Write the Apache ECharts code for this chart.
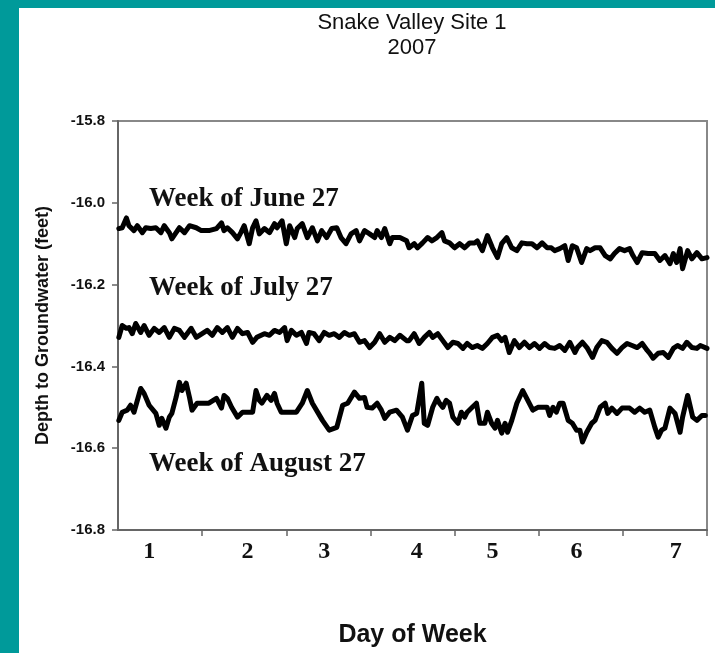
<!DOCTYPE html>
<html>
<head>
<meta charset="utf-8">
<script src="https://cdn.jsdelivr.net/npm/echarts@6/dist/echarts.min.js"></script>
<style>
  html, body { margin: 0; padding: 0; width: 715px; height: 653px; background: #009a9a; overflow: hidden; }
  #panel { position: absolute; left: 19px; top: 8px; right: 0; bottom: 0; background: #fff; }
  #chart { position: absolute; left: 0; top: 0; width: 715px; height: 653px; }
</style>
</head>
<body>
<div id="panel"></div>
<div id="chart"></div>
<script>
// day of week labels and where they sit on the 0..7 axis
var dayLabels = ['1', '2', '3', '4', '5', '6', '7'];
var dayLabelAt = [0.37, 1.54, 2.45, 3.55, 4.45, 5.45, 6.63];
var dayTicks = [1, 2, 3, 4, 5, 6, 7];

var seriesNames = ['Week of June 27', 'Week of July 27', 'Week of August 27'];

// [day, depth in feet]
var june27 = [
  [0.01,-16.063],[0.05,-16.061],[0.10,-16.037],[0.13,-16.056],[0.19,-16.068],[0.23,-16.056],[0.29,-16.073],[0.33,-16.061],
  [0.39,-16.063],[0.45,-16.061],[0.51,-16.073],[0.55,-16.056],[0.61,-16.073],[0.64,-16.088],[0.69,-16.073],[0.73,-16.061],
  [0.79,-16.073],[0.85,-16.056],[0.93,-16.061],[0.99,-16.068],[1.08,-16.068],[1.17,-16.063],[1.23,-16.049],[1.26,-16.068],
  [1.30,-16.061],[1.36,-16.073],[1.42,-16.088],[1.46,-16.073],[1.50,-16.056],[1.56,-16.100],[1.60,-16.061],[1.64,-16.044],
  [1.68,-16.076],[1.74,-16.063],[1.80,-16.073],[1.86,-16.051],[1.89,-16.061],[1.95,-16.044],[2.00,-16.100],[2.04,-16.056],
  [2.10,-16.085],[2.13,-16.063],[2.19,-16.051],[2.25,-16.085],[2.31,-16.061],[2.37,-16.093],[2.42,-16.068],[2.48,-16.085],
  [2.54,-16.063],[2.60,-16.061],[2.65,-16.085],[2.71,-16.100],[2.77,-16.076],[2.83,-16.068],[2.87,-16.093],[2.93,-16.068],
  [2.99,-16.076],[3.05,-16.085],[3.08,-16.068],[3.13,-16.085],[3.17,-16.063],[3.23,-16.100],[3.26,-16.085],[3.35,-16.085],
  [3.43,-16.093],[3.46,-16.110],[3.52,-16.100],[3.56,-16.110],[3.62,-16.098],[3.68,-16.085],[3.73,-16.093],[3.79,-16.085],
  [3.85,-16.073],[3.88,-16.093],[3.94,-16.098],[4.00,-16.110],[4.06,-16.100],[4.12,-16.110],[4.18,-16.098],[4.24,-16.098],
  [4.27,-16.093],[4.33,-16.117],[4.39,-16.080],[4.45,-16.110],[4.51,-16.134],[4.56,-16.100],[4.62,-16.085],[4.68,-16.110],
  [4.74,-16.117],[4.80,-16.098],[4.86,-16.100],[4.92,-16.100],[4.98,-16.110],[5.04,-16.098],[5.10,-16.110],[5.15,-16.110],
  [5.19,-16.117],[5.25,-16.112],[5.31,-16.105],[5.35,-16.141],[5.40,-16.105],[5.45,-16.110],[5.51,-16.146],[5.57,-16.112],
  [5.61,-16.117],[5.67,-16.110],[5.73,-16.110],[5.79,-16.129],[5.85,-16.137],[5.90,-16.124],[5.96,-16.112],[6.02,-16.117],
  [6.08,-16.112],[6.12,-16.129],[6.17,-16.146],[6.23,-16.122],[6.30,-16.124],[6.38,-16.124],[6.44,-16.141],[6.50,-16.129],
  [6.56,-16.149],[6.60,-16.124],[6.64,-16.146],[6.68,-16.112],[6.71,-16.161],[6.77,-16.117],[6.82,-16.137],[6.88,-16.122],
  [6.94,-16.137],[7.00,-16.134]
];
var july27 = [
  [0.01,-16.329],[0.05,-16.300],[0.10,-16.307],[0.13,-16.305],[0.17,-16.320],[0.21,-16.295],[0.27,-16.317],[0.31,-16.300],
  [0.37,-16.324],[0.43,-16.307],[0.49,-16.317],[0.55,-16.305],[0.61,-16.329],[0.67,-16.307],[0.73,-16.312],[0.79,-16.329],
  [0.87,-16.307],[0.93,-16.329],[1.00,-16.320],[1.06,-16.312],[1.12,-16.324],[1.18,-16.305],[1.24,-16.317],[1.30,-16.305],
  [1.36,-16.329],[1.42,-16.307],[1.48,-16.320],[1.54,-16.317],[1.60,-16.341],[1.65,-16.329],[1.74,-16.320],[1.80,-16.324],
  [1.86,-16.312],[1.92,-16.317],[1.98,-16.305],[2.01,-16.337],[2.06,-16.312],[2.12,-16.324],[2.18,-16.317],[2.24,-16.344],
  [2.27,-16.317],[2.33,-16.320],[2.39,-16.337],[2.45,-16.317],[2.51,-16.324],[2.57,-16.320],[2.63,-16.329],[2.69,-16.317],
  [2.75,-16.324],[2.81,-16.320],[2.87,-16.341],[2.93,-16.337],[2.99,-16.354],[3.05,-16.341],[3.11,-16.320],[3.17,-16.341],
  [3.23,-16.329],[3.29,-16.337],[3.35,-16.324],[3.43,-16.337],[3.46,-16.337],[3.52,-16.320],[3.58,-16.344],[3.64,-16.329],
  [3.70,-16.317],[3.74,-16.329],[3.80,-16.320],[3.86,-16.337],[3.92,-16.354],[3.98,-16.341],[4.04,-16.344],[4.10,-16.356],
  [4.15,-16.344],[4.21,-16.354],[4.27,-16.349],[4.33,-16.356],[4.39,-16.344],[4.45,-16.329],[4.51,-16.324],[4.56,-16.337],
  [4.60,-16.329],[4.65,-16.366],[4.71,-16.337],[4.77,-16.354],[4.83,-16.341],[4.89,-16.354],[4.95,-16.344],[5.01,-16.356],
  [5.07,-16.344],[5.13,-16.354],[5.19,-16.356],[5.25,-16.349],[5.31,-16.361],[5.37,-16.341],[5.43,-16.366],[5.46,-16.354],
  [5.52,-16.341],[5.58,-16.356],[5.64,-16.378],[5.69,-16.354],[5.75,-16.337],[5.81,-16.341],[5.87,-16.356],[5.93,-16.368],
  [5.99,-16.354],[6.05,-16.344],[6.11,-16.349],[6.17,-16.354],[6.23,-16.344],[6.29,-16.361],[6.32,-16.368],[6.36,-16.380],
  [6.42,-16.368],[6.48,-16.366],[6.54,-16.378],[6.60,-16.356],[6.65,-16.349],[6.71,-16.356],[6.76,-16.341],[6.82,-16.354],
  [6.88,-16.356],[6.92,-16.349],[7.00,-16.356]
];
var aug27 = [
  [0.01,-16.532],[0.05,-16.512],[0.11,-16.507],[0.15,-16.495],[0.19,-16.512],[0.27,-16.454],[0.31,-16.466],[0.37,-16.495],
  [0.45,-16.515],[0.49,-16.544],[0.52,-16.527],[0.57,-16.551],[0.61,-16.524],[0.64,-16.515],[0.69,-16.476],[0.73,-16.439],
  [0.76,-16.459],[0.81,-16.441],[0.85,-16.476],[0.88,-16.507],[0.94,-16.490],[1.08,-16.490],[1.17,-16.478],[1.23,-16.502],
  [1.26,-16.471],[1.30,-16.478],[1.35,-16.500],[1.42,-16.524],[1.48,-16.512],[1.60,-16.512],[1.64,-16.459],[1.68,-16.483],
  [1.71,-16.490],[1.77,-16.471],[1.82,-16.483],[1.86,-16.466],[1.89,-16.490],[1.94,-16.512],[2.12,-16.512],[2.19,-16.490],
  [2.25,-16.459],[2.31,-16.490],[2.43,-16.532],[2.51,-16.556],[2.60,-16.549],[2.67,-16.495],[2.73,-16.490],[2.81,-16.463],
  [2.87,-16.478],[2.93,-16.476],[2.96,-16.500],[3.02,-16.502],[3.08,-16.490],[3.13,-16.507],[3.17,-16.527],[3.23,-16.512],
  [3.31,-16.507],[3.38,-16.524],[3.44,-16.556],[3.50,-16.520],[3.55,-16.515],[3.61,-16.441],[3.64,-16.539],[3.68,-16.544],
  [3.74,-16.500],[3.79,-16.478],[3.82,-16.490],[3.86,-16.500],[3.90,-16.483],[3.94,-16.490],[3.98,-16.524],[4.04,-16.539],
  [4.08,-16.512],[4.12,-16.524],[4.15,-16.512],[4.21,-16.500],[4.26,-16.490],[4.30,-16.539],[4.36,-16.539],[4.39,-16.512],
  [4.44,-16.539],[4.48,-16.551],[4.51,-16.532],[4.56,-16.563],[4.60,-16.539],[4.63,-16.561],[4.68,-16.532],[4.74,-16.490],
  [4.81,-16.459],[4.87,-16.483],[4.93,-16.507],[4.99,-16.500],[5.10,-16.500],[5.13,-16.520],[5.17,-16.500],[5.21,-16.512],
  [5.25,-16.490],[5.29,-16.490],[5.35,-16.532],[5.40,-16.539],[5.45,-16.556],[5.49,-16.556],[5.52,-16.585],[5.57,-16.561],
  [5.63,-16.539],[5.67,-16.532],[5.73,-16.500],[5.79,-16.490],[5.82,-16.515],[5.87,-16.502],[5.93,-16.515],[5.99,-16.502],
  [6.08,-16.502],[6.14,-16.512],[6.20,-16.502],[6.26,-16.512],[6.32,-16.507],[6.38,-16.549],[6.42,-16.573],[6.46,-16.556],
  [6.50,-16.551],[6.56,-16.502],[6.62,-16.515],[6.68,-16.561],[6.71,-16.524],[6.77,-16.471],[6.83,-16.524],[6.88,-16.532],
  [6.94,-16.520],[6.98,-16.520]
];

var myChart = echarts.init(document.getElementById('chart'), null, { renderer: 'canvas' });

var sans = '"Liberation Sans", Arial, sans-serif';
var serif = '"Liberation Serif", "Times New Roman", serif';

function lineSeries(name, data) {
  return {
    name: name, type: 'line', data: data,
    showSymbol: false, symbol: 'none',
    lineStyle: { color: '#000', width: 5, join: 'round', cap: 'round' },
    animation: false
  };
}

var option = {
  backgroundColor: 'transparent',
  animation: false,
  grid: {
    left: 118, top: 121, right: 8, bottom: 123,
    outerBoundsMode: 'none',
    show: true, borderColor: '#888', borderWidth: 2, backgroundColor: 'transparent'
  },
  xAxis: {
    type: 'value', min: 0, max: 7,
    name: 'Day of Week', nameLocation: 'middle', nameGap: 93,
    nameTextStyle: { fontFamily: sans, fontSize: 25, fontWeight: 'bold', color: '#111' },
    axisLine: { show: true, lineStyle: { color: '#666', width: 2 } },
    axisTick: { show: true, customValues: dayTicks, length: 6, lineStyle: { color: '#666', width: 1.5 } },
    axisLabel: {
      customValues: dayLabelAt, margin: 10,
      fontFamily: serif, fontWeight: 'bold', fontSize: 24, color: '#111',
      formatter: function (v) {
        var i = dayLabelAt.indexOf(v);
        return i >= 0 ? dayLabels[i] : '';
      }
    },
    splitLine: { show: false }
  },
  yAxis: {
    type: 'value', min: -16.8, max: -15.8, interval: 0.2,
    name: 'Depth to Groundwater (feet)', nameLocation: 'middle', nameGap: 66, nameRotate: 90,
    nameTextStyle: { fontFamily: sans, fontSize: 18, fontWeight: 'bold', color: '#111' },
    axisLine: { show: true, lineStyle: { color: '#666', width: 2 } },
    axisTick: { show: true, inside: false, length: 6, lineStyle: { color: '#666', width: 1.5 } },
    axisLabel: {
      margin: 13, fontFamily: sans, fontSize: 15, fontWeight: 'bold', color: '#111',
      formatter: function (v) { return v.toFixed(1); }
    },
    splitLine: { show: false }
  },
  graphic: [
    { type: 'text', x: 412, y: 10, style: {
        text: 'Snake Valley Site 1\n2007', textAlign: 'center',
        font: '22px ' + sans, fill: '#111', lineHeight: 25 } },
    { type: 'text', left: 149, top: 186, style: {
        text: seriesNames[0], font: 'bold 27px ' + serif, fill: '#111' } },
    { type: 'text', left: 149, top: 275, style: {
        text: seriesNames[1], font: 'bold 27px ' + serif, fill: '#111' } },
    { type: 'text', left: 149, top: 451, style: {
        text: seriesNames[2], font: 'bold 27px ' + serif, fill: '#111' } }
  ],
  series: [
    lineSeries(seriesNames[0], june27),
    lineSeries(seriesNames[1], july27),
    lineSeries(seriesNames[2], aug27)
  ]
};

myChart.setOption(option);
</script>
</body>
</html>
